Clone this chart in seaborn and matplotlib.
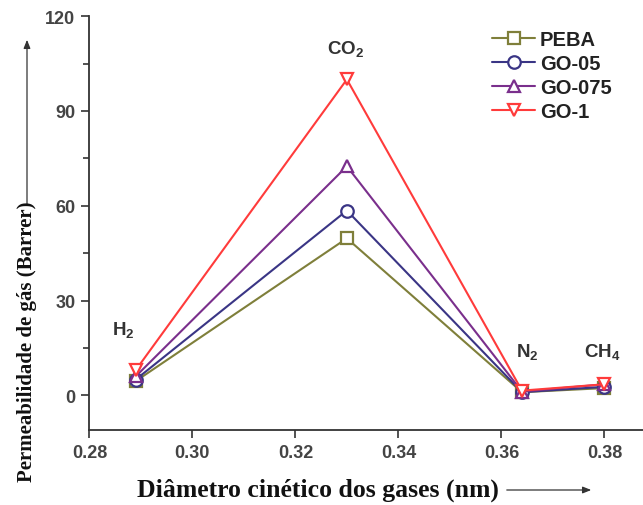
import matplotlib
matplotlib.use("Agg")
import matplotlib.pyplot as plt
import seaborn as sns
import pandas as pd

gases = ["H2", "CO2", "N2", "CH4"]
diameters = [0.289, 0.330, 0.364, 0.380]
series_names = ["PEBA", "GO-05", "GO-075", "GO-1"]
peba = [4.5, 49.7, 1.0, 2.3]
go05 = [5.0, 58.5, 1.0, 2.7]
go075 = [6.0, 72.5, 1.2, 3.5]
go1 = [8.0, 100.0, 1.5, 3.5]
colors = ["#7f7f3a", "#3a3585", "#7a2f8c", "#ff3b3b"]
markers = ["s", "o", "^", "v"]
gas_labels = [r"$\mathbf{H_2}$", r"$\mathbf{CO_2}$", r"$\mathbf{N_2}$", r"$\mathbf{CH_4}$"]
label_x = [0.2866, 0.3297, 0.3650, 0.3796]
label_y = [19.3, 108.5, 12.3, 12.3]

rows = []
for name, vals in zip(series_names, [peba, go05, go075, go1]):
    for g, d, v in zip(gases, diameters, vals):
        rows.append({"d": d, "perm": v, "series": name, "gas": g})
df = pd.DataFrame(rows)

sns.set_style("ticks")
plt.rcParams["font.family"] = ["Liberation Sans", "DejaVu Sans"]
plt.rcParams["mathtext.fontset"] = "custom"
plt.rcParams["mathtext.bf"] = "Liberation Sans:bold"
plt.rcParams["mathtext.rm"] = "Liberation Sans"

fig = plt.figure(figsize=(6.43, 5.06), dpi=100)
ax = fig.add_axes([0.139, 0.148, 0.861, 0.818])

sns.lineplot(data=df, x="d", y="perm", hue="series", style="series",
             hue_order=series_names, style_order=series_names,
             palette=colors, markers=markers, dashes=False,
             linewidth=1.5, markersize=9, ax=ax, legend=False, sort=False)

for line, c in zip(ax.get_lines(), colors):
    line.set_markerfacecolor("white")
    line.set_markeredgecolor(c)
    line.set_markeredgewidth(1.6)
    line.set_color(c)

handles = ax.get_lines()[:4]
leg = ax.legend(handles, series_names, loc="upper right", bbox_to_anchor=(0.965, 0.995),
                frameon=False, handlelength=2.1, handletextpad=0.25, labelspacing=0.25,
                borderaxespad=0.2, prop={"weight": "bold", "size": 14.5})
for t in leg.get_texts():
    t.set_color("#222222")

ax.set_xlim(0.28, 0.3875)
ax.set_ylim(-11, 120)
ax.set_xticks([0.28, 0.30, 0.32, 0.34, 0.36, 0.38])
ax.set_xticklabels(["0.28", "0.30", "0.32", "0.34", "0.36", "0.38"])
ax.set_yticks([0, 30, 60, 90, 120])
ax.set_yticks([15, 45, 75, 105], minor=True)
ax.tick_params(axis="both", which="major", length=6, width=1.2, labelsize=13,
               colors="#333333", pad=4)
ax.tick_params(axis="y", which="minor", length=4, width=1.2, colors="#333333")
for lab in ax.get_xticklabels() + ax.get_yticklabels():
    lab.set_fontweight("bold")
    lab.set_color("#444444")
for s in ["top", "right"]:
    ax.spines[s].set_visible(False)
for s in ["left", "bottom"]:
    ax.spines[s].set_linewidth(1.3)
    ax.spines[s].set_color("#333333")

ax.set_xlabel("")
ax.set_ylabel("")

for lx, ly, txt in zip(label_x, label_y, gas_labels):
    ax.text(lx, ly, txt, ha="center", va="baseline", fontsize=13.5, color="#333333")

serif = ["Liberation Serif", "DejaVu Serif"]
fig.text(137 / 643, 1 - 490 / 506, "Diâmetro cinético dos gases (nm)", family=serif,
         fontweight="bold", fontsize=18.5, ha="left", va="center", color="#111111")
fig.text(27 / 643, 1 - 482 / 506, "Permeabilidade de gás (Barrer)", family=serif,
         fontweight="bold", fontsize=15, rotation=90, ha="center", va="bottom", color="#111111")
fig.add_artist(matplotlib.patches.FancyArrowPatch((504 / 643, 1 - 491 / 506), (594 / 643, 1 - 491 / 506),
               transform=fig.transFigure, arrowstyle="-|>,head_length=5,head_width=2",
               color="#333333", lw=0.9))
fig.add_artist(matplotlib.patches.FancyArrowPatch((27 / 643, 1 - 208 / 506), (27 / 643, 1 - 38 / 506),
               transform=fig.transFigure, arrowstyle="-|>,head_length=5,head_width=2",
               color="#333333", lw=0.9))

fig.savefig("out.png", dpi=100)
